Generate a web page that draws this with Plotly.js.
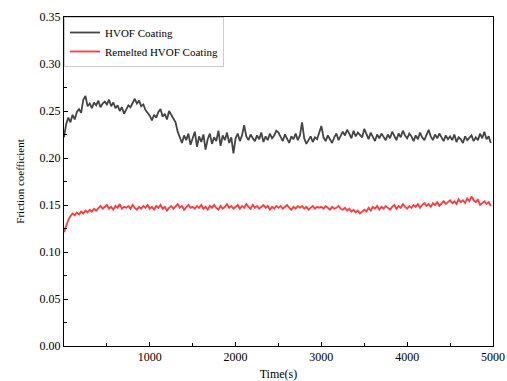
<!DOCTYPE html>
<html>
<head>
<meta charset="utf-8">
<script src="https://cdn.plot.ly/plotly-3.0.1.min.js"></script>
<style>html,body{margin:0;padding:0;background:#fff;}#chart{width:507px;height:381px;}</style>
</head>
<body>
<div id="chart"></div>
<script>
const sampleStep = 25;

const hvofCoating = [
0.222,0.236,0.243,0.238,0.246,0.241,0.249,0.252,0.248,0.262,
0.266,0.255,0.258,0.253,0.259,0.256,0.261,0.254,0.258,0.260,
0.257,0.262,0.255,0.259,0.253,0.256,0.250,0.254,0.247,0.252,
0.256,0.254,0.259,0.263,0.258,0.261,0.255,0.257,0.251,0.248,
0.245,0.240,0.246,0.243,0.249,0.252,0.244,0.247,0.241,0.250,
0.246,0.243,0.238,0.228,0.222,0.216,0.224,0.219,0.226,0.214,
0.221,0.228,0.212,0.223,0.217,0.225,0.209,0.220,0.226,0.215,
0.222,0.218,0.229,0.213,0.224,0.219,0.227,0.216,0.222,0.205,
0.221,0.226,0.218,0.224,0.235,0.223,0.219,0.225,0.221,0.218,
0.224,0.220,0.227,0.217,0.223,0.219,0.226,0.221,0.224,0.229,
0.227,0.222,0.218,0.225,0.221,0.216,0.223,0.220,0.226,0.219,
0.224,0.238,0.221,0.215,0.219,0.223,0.217,0.222,0.220,0.226,
0.234,0.222,0.218,0.224,0.220,0.216,0.222,0.226,0.219,0.223,
0.228,0.224,0.230,0.226,0.221,0.229,0.223,0.227,0.225,0.222,
0.231,0.226,0.220,0.227,0.223,0.218,0.225,0.221,0.226,0.222,
0.219,0.225,0.221,0.228,0.223,0.219,0.226,0.222,0.229,0.224,
0.221,0.226,0.223,0.218,0.224,0.220,0.227,0.222,0.219,0.225,
0.230,0.223,0.219,0.225,0.221,0.226,0.222,0.218,0.224,0.220,
0.223,0.219,0.225,0.217,0.222,0.220,0.216,0.223,0.219,0.221,
0.224,0.218,0.222,0.219,0.226,0.221,0.228,0.220,0.223,0.216
];

const remeltedCoating = [
0.121,0.128,0.134,0.138,0.141,0.139,0.142,0.140,0.143,0.141,
0.144,0.142,0.145,0.143,0.146,0.144,0.147,0.149,0.146,0.148,
0.150,0.146,0.148,0.145,0.149,0.147,0.151,0.146,0.148,0.147,
0.149,0.146,0.150,0.147,0.145,0.148,0.146,0.149,0.147,0.150,
0.146,0.148,0.145,0.149,0.147,0.150,0.146,0.148,0.144,0.147,
0.149,0.146,0.148,0.151,0.147,0.149,0.145,0.148,0.150,0.147,
0.148,0.146,0.149,0.147,0.150,0.146,0.148,0.145,0.149,0.147,
0.150,0.147,0.145,0.149,0.146,0.148,0.151,0.147,0.149,0.146,
0.148,0.150,0.146,0.149,0.147,0.151,0.148,0.146,0.150,0.147,
0.149,0.146,0.148,0.150,0.147,0.149,0.145,0.148,0.146,0.149,
0.147,0.149,0.146,0.148,0.150,0.147,0.145,0.148,0.146,0.149,
0.147,0.149,0.146,0.148,0.145,0.147,0.149,0.146,0.148,0.147,
0.148,0.146,0.149,0.147,0.145,0.148,0.146,0.147,0.149,0.146,
0.145,0.147,0.144,0.146,0.143,0.145,0.142,0.144,0.141,0.143,
0.145,0.143,0.147,0.144,0.148,0.146,0.149,0.145,0.148,0.146,
0.149,0.147,0.145,0.148,0.150,0.146,0.149,0.147,0.151,0.148,
0.146,0.149,0.147,0.150,0.148,0.151,0.147,0.150,0.152,0.149,
0.151,0.148,0.152,0.150,0.153,0.149,0.152,0.154,0.151,0.153,
0.155,0.152,0.154,0.151,0.156,0.153,0.155,0.152,0.157,0.154,
0.159,0.155,0.153,0.156,0.150,0.152,0.154,0.151,0.153,0.149
];

const seriesNames = ["HVOF Coating", "Remelted HVOF Coating"];
const xTickVals = [1000, 2000, 3000, 4000, 5000];
const yTickVals = [0.00, 0.05, 0.10, 0.15, 0.20, 0.25, 0.30, 0.35];

const time = hvofCoating.map((_, i) => i * sampleStep);

const serif = "Times New Roman";

const traces = [
  {x: time, y: hvofCoating, name: seriesNames[0], type: "scatter", mode: "lines",
   line: {color: "#444444", width: 1.8}},
  {x: time, y: remeltedCoating, name: seriesNames[1], type: "scatter", mode: "lines",
   line: {color: "#ff3b3b", width: 1.8}}
];

const layout = {
  width: 507, height: 381,
  margin: {l: 64, r: 14, t: 17, b: 35},
  paper_bgcolor: "#ffffff", plot_bgcolor: "#ffffff",
  font: {family: serif, size: 12, color: "#000"},
  showlegend: true,
  legend: {x: 0, y: 1, xanchor: "left", yanchor: "top", bgcolor: "#ffffff",
           bordercolor: "#cccccc", borderwidth: 1, font: {family: serif, size: 11},
           tracegroupgap: 0, itemwidth: 30},
  xaxis: {range: [0, 5000.5], tickmode: "array", tickvals: xTickVals,
          ticks: "inside", ticklen: 4, tickcolor: "#000", showline: true, linecolor: "#000",
          linewidth: 1, mirror: true, showgrid: false, zeroline: false, automargin: false,
          minor: {ticks: "inside", ticklen: 3, dtick: 500, tick0: 0, tickcolor: "#000", showgrid: false},
          tickfont: {family: serif, size: 12},
          title: {text: "Time(s)", font: {family: serif, size: 12}, standoff: 8}},
  yaxis: {range: [0, 0.35], tickmode: "array", tickvals: yTickVals, tickformat: ".2f",
          ticks: "inside", ticklen: 4, tickcolor: "#000", showline: true, linecolor: "#000",
          linewidth: 1, mirror: true, showgrid: false, zeroline: false, automargin: false,
          minor: {ticks: "inside", ticklen: 3, dtick: 0.025, tick0: 0, tickcolor: "#000", showgrid: false},
          tickfont: {family: serif, size: 12},
          title: {text: "Friction coefficient", font: {family: serif, size: 11}, standoff: 12}}
};

Plotly.newPlot("chart", traces, layout, {displayModeBar: false, staticPlot: true});
</script>
</body>
</html>
